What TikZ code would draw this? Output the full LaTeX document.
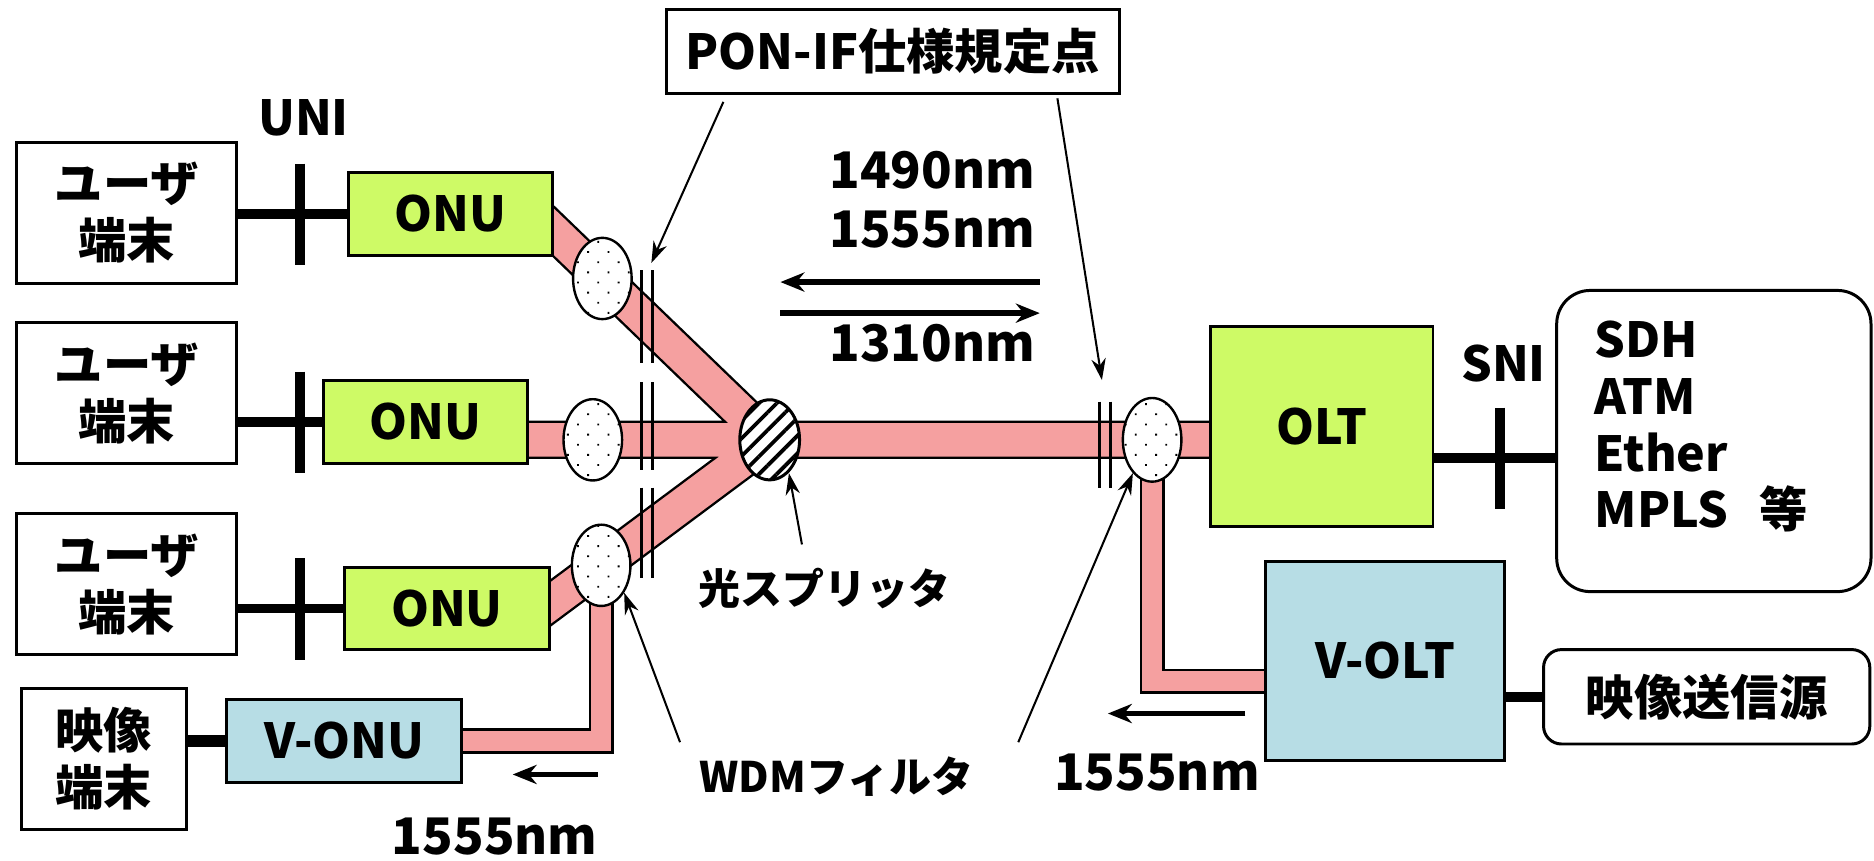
\documentclass[tikz,border=0pt]{standalone}
\usepackage{fontspec}
\setmainfont{Noto Sans CJK JP}
\usepackage{xcolor}
\usepackage{tikz}
\usetikzlibrary{shapes.geometric, arrows.meta, positioning, calc, backgrounds, patterns.meta}
\definecolor{onugreen}{RGB}{206, 250, 102}
\definecolor{videoblue}{RGB}{183, 221, 229}
\definecolor{fiberpink}{RGB}{245, 160, 160}

\begin{document}
\begin{tikzpicture}[x=0.1mm, y=-0.1mm, font=\fontsize{11.5}{13.5}\selectfont\bfseries]
    % Styles
    \tikzstyle{termbox} = [rectangle, draw, line width=0.25mm, fill=white, minimum width=18.4mm, minimum height=11.8mm, align=center]
    \tikzstyle{onubox} = [rectangle, draw, line width=0.25mm, fill=onugreen, minimum width=17.1mm, minimum height=6.9mm]
    \tikzstyle{vidbox} = [rectangle, draw, line width=0.25mm, fill=videoblue]
    \tikzstyle{roundbox} = [rectangle, draw, line width=0.25mm, fill=white, rounded corners=2.8mm]
    \tikzstyle{wdmfilter} = [ellipse, draw, line width=0.2mm, minimum width=4.9mm, minimum height=6.8mm, inner sep=0pt, preaction={fill=white}, pattern={Dots[distance=1.2mm, angle=45, radius=0.11mm]}]
    \tikzstyle{splitbox} = [ellipse, draw, line width=0.25mm, minimum width=5mm, minimum height=6.7mm, inner sep=0pt, preaction={fill=white}, pattern={Lines[angle=45, distance=1.05mm, line width=0.32mm]}]
    \tikzstyle{vfiber} = [draw=black, line width=0.2mm, double=fiberpink, double distance=1.7mm, line join=miter]
    \tikzstyle{thickline} = [line width=0.8mm]
    \tikzstyle{ifbar} = [line width=0.25mm]
    \tikzstyle{notearrow} = [line width=0.17mm, -{Stealth[length=1.8mm, width=1.2mm]}]
    \tikzstyle{wavearrow} = [line width=0.45mm, -{Stealth[length=2mm, width=1.6mm]}]
    \tikzstyle{nmtext} = [font=\fontsize{12}{14}\selectfont\bfseries]
    \tikzstyle{labeltext} = [font=\fontsize{10}{12}\selectfont\bfseries]

    \useasboundingbox (0,0) rectangle (1568,720);

    % Nodes
    \node [termbox] (user1) at (106,178) {ユーザ\\端末};
    \node [termbox] (user2) at (106,329) {ユーザ\\端末};
    \node [termbox] (user3) at (106,489) {ユーザ\\端末};
    \node [termbox, minimum width=13.8mm] (vterm) at (87,635) {映像\\端末};
    \node [onubox] (onu1) at (377,179) {ONU};
    \node [onubox] (onu2) at (356,353) {ONU};
    \node [onubox] (onu3) at (374,509) {ONU};
    \node [vidbox, minimum width=19.7mm, minimum height=6.9mm] (vonu) at (288,620) {V-ONU};
    \node [wdmfilter] (wdm1) at (504,233) {};
    \node [wdmfilter] (wdm2) at (496,368) {};
    \node [wdmfilter] (wdm3) at (503,473) {};
    \node [splitbox] (split) at (644,368) {};
    \node [wdmfilter, minimum height=7mm] (wdmR) at (964,368) {};
    \node [onubox, minimum width=18.6mm, minimum height=16.7mm] (olt) at (1106,357) {OLT};
    \node [vidbox, minimum width=20mm, minimum height=16.6mm] (volt) at (1159,553) {V-OLT};
    \node [roundbox, minimum width=26.3mm, minimum height=25.2mm] (net) at (1434,369) {};
    \node [anchor=west, align=left] (nettxt) at (1322,357) {SDH\\ATM\\Ether\\MPLS\hspace{2.6mm}等};
    \node [roundbox, rounded corners=1.5mm, minimum width=27.3mm, minimum height=7.9mm] (src) at (1428,583) {映像送信源};
    \node [rectangle, draw, line width=0.25mm, minimum width=37.9mm, minimum height=7mm] (ponif) at (747,43) {PON-IF仕様規定点};

    % Labels
    \node (unilbl) at (254,99) {UNI};
    \node (snilbl) at (1258,304) {SNI};
    \node [nmtext] (nmdown1) at (780,142) {1490nm};
    \node [nmtext] (nmdown2) at (780,192) {1555nm};
    \node [nmtext] (nmup) at (780,287) {1310nm};
    \node [nmtext] (nmvl) at (414,700) {1555nm};
    \node [nmtext] (nmvr) at (968,646) {1555nm};
    \node [labeltext] (spltxt) at (690,492) {光スプリッタ};
    \node [labeltext] (wdmtxt) at (700,650) {WDMフィルタ};

    % Points
    \coordinate (unix) at (251,0);
    \coordinate (sni) at (1255,383);
    \coordinate (ifL) at (545,220);
    \coordinate (ifR) at (922,318);
    \coordinate (dnA) at (870,236);
    \coordinate (dnB) at (653,236);
    \coordinate (upA) at (653,262);
    \coordinate (upB) at (870,262);
    \coordinate (vlA) at (500,648);
    \coordinate (vlB) at (429,648);
    \coordinate (vrA) at (1042,597);
    \coordinate (vrB) at (927,597);

    % Fibers
    \begin{pgfonlayer}{background}
        \foreach \fw/\fc in {3.2mm/black, 2.8mm/fiberpink}
            \draw [line width=\fw, draw=\fc] (split.center) -- ($(split.center)!1.5!(wdm1.center)$)
                (split.center) -- ($(split.center)!1.5!(wdm3.center)$)
                (split.center -| onu2.center) -- (split.center -| olt.center);
        \draw [vfiber] (wdm3.center) |- (vonu.center);
        \draw [vfiber] (wdmR.center) |- ($(volt.center)+(0,17)$);
    \end{pgfonlayer}

    % Links
    \foreach \i in {1,2,3} {
        \draw [thickline] (onu\i.west) -- (onu\i.west -| user\i.east);
        \draw [thickline] ($(onu\i.west -| unix)+(0,-42)$) -- ++(0,85);
    }
    \draw [thickline, line width=1mm] (vonu.west) -- (vonu.west -| vterm.east);
    \draw [thickline] (sni -| olt.east) -- (sni -| net.west);
    \draw [thickline] ($(sni)+(0,-42)$) -- ++(0,85);
    \draw [thickline] (src.west) -- (src.west -| volt.east);

    % PON-IF points
    \foreach \ya/\yb in {226/304, 320/393, 408/484}
        \draw [ifbar] (537,\ya) -- (537,\yb) (546,\ya) -- (546,\yb);
    \draw [ifbar] (920,336) -- (920,408) (929,336) -- (929,408);

    % Arrows
    \draw [wavearrow] (dnA) -- (dnB);
    \draw [wavearrow] (upA) -- (upB);
    \draw [wavearrow] (vlA) -- (vlB);
    \draw [wavearrow] (vrA) -- (vrB);
    \draw [notearrow] ([xshift=4.9mm,yshift=-0.6mm]ponif.south west) -- (ifL);
    \draw [notearrow] ([xshift=-5.3mm,yshift=-0.3mm]ponif.south east) -- (ifR);
    \draw [notearrow] ([xshift=-1.9mm,yshift=0.7mm]spltxt.north) -- (split.-60);
    \draw [notearrow] ([xshift=-0.4mm]wdmtxt.north west) -- (wdm3.-50);
    \draw [notearrow] ([xshift=2.5mm]wdmtxt.north east) -- (wdmR.-120);
\end{tikzpicture}
\end{document}
